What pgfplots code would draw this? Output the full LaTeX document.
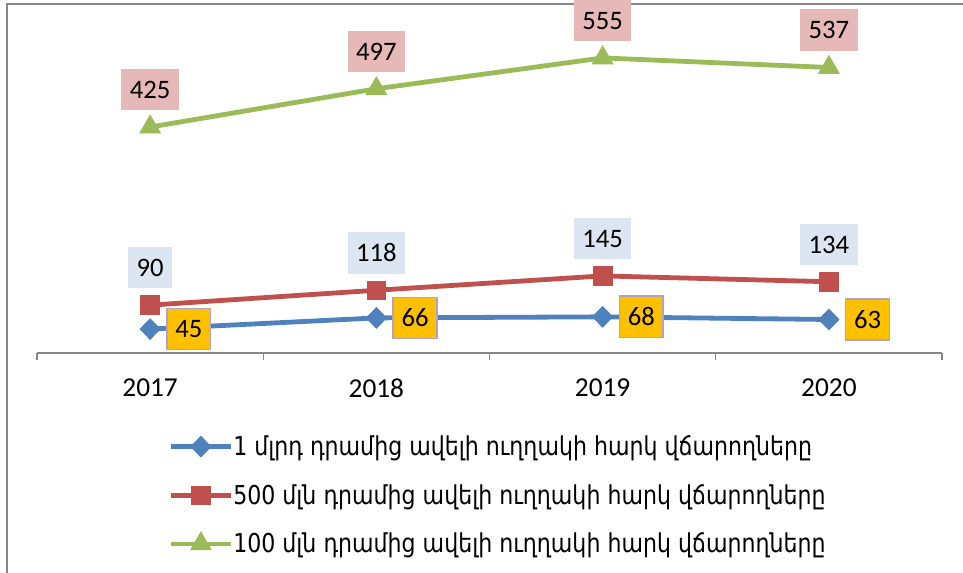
\documentclass[border=0pt]{standalone}
\usepackage{fontspec}
\setmainfont{Carlito}
\newfontfamily\armfont[FakeStretch=0.85]{DejaVu Sans}
\usepackage{pgfplots}
\pgfplotsset{compat=1.18}

\definecolor{sBlue}{HTML}{4F81BD}
\definecolor{sRed}{HTML}{C0504D}
\definecolor{sGreen}{HTML}{9BBB59}
\definecolor{lPink}{HTML}{E6B9B8}
\definecolor{lBlue}{HTML}{DCE6F2}
\definecolor{lGold}{HTML}{FFC000}
\definecolor{lEdge}{HTML}{B3A2C7}
\definecolor{axGray}{HTML}{868686}

\begin{document}
\begin{tikzpicture}
\useasboundingbox (0,0) rectangle (722.25pt,429.75pt);
\draw[axGray, line width=1.2pt] (5.25pt,0pt) -- (5.25pt,426.75pt) -- (722.25pt,426.75pt);

\begin{axis}[
    at={(27.75pt,165pt)}, anchor=south west,
    scale only axis,
    width=678.75pt, height=239.25pt,
    xmin=-0.5, xmax=3.5,
    ymin=0, ymax=600,
    clip=false,
    axis x line=bottom, axis y line=none,
    x axis line style={-, axGray, line width=1.1pt},
    xtick={0,1,2,3},
    xticklabels={2017,2018,2019,2020},
    major tick length=0pt,
    extra x ticks={-0.5,0.5,1.5,2.5,3.5},
    extra x tick labels={},
    extra x tick style={major tick length=5.25pt, tick align=outside,
        tick style={axGray, line width=1.1pt}},
    xticklabel style={font=\fontsize{20.5}{24}\selectfont, yshift=-15.5pt},
    /pgf/number format/assume math mode=true,
    nodes near coords,
    every node near coord/.append style={font=\fontsize{20}{24}\selectfont,
        text=black, text height=13pt, text depth=0pt,
        inner xsep=6.3pt, inner ysep=9pt, anchor=center},
    legend cell align=left,
    legend style={draw=none, fill=none, inner sep=0pt,
        at={(axis description cs:0.145,-0.25)}, anchor=north west,
        row sep=16pt,
        font=\armfont\fontsize{19.5}{23}\selectfont,
        nodes={inner xsep=0pt}},
    legend image code/.code={
        \draw[mark repeat=2,mark phase=2,#1]
        plot coordinates {(0pt,0pt) (22.5pt,0pt) (45pt,0pt)};},
]

% 1 bln
\addplot[sBlue, line width=3.6pt, mark=diamond*, mark size=7.8pt,
    mark options={xscale=1.3, line width=0.5pt},
    every node near coord/.append style={fill=lGold, draw=lEdge, line width=1.1pt, xshift=29pt}]
    coordinates {(0,45) (1,66) (2,68) (3,63)};
\addlegendentry{1 մլրդ դրամից ավելի ուղղակի հարկ վճարողները}

% 500 mln
\addplot[sRed, line width=3.6pt, mark=square*, mark size=7pt,
    mark options={line width=0.5pt},
    every node near coord/.append style={fill=lBlue, yshift=28pt}]
    coordinates {(0,90) (1,118) (2,145) (3,134)};
\addlegendentry{500 մլն դրամից ավելի ուղղակի հարկ վճարողները}

% 100 mln
\addplot[sGreen, line width=3.6pt, mark=triangle*, mark size=9pt,
    mark options={line width=0.5pt},
    every node near coord/.append style={fill=lPink, yshift=28pt}]
    coordinates {(0,425) (1,497) (2,555) (3,537)};
\addlegendentry{100 մլն դրամից ավելի ուղղակի հարկ վճարողները}

\end{axis}
\end{tikzpicture}
\end{document}
